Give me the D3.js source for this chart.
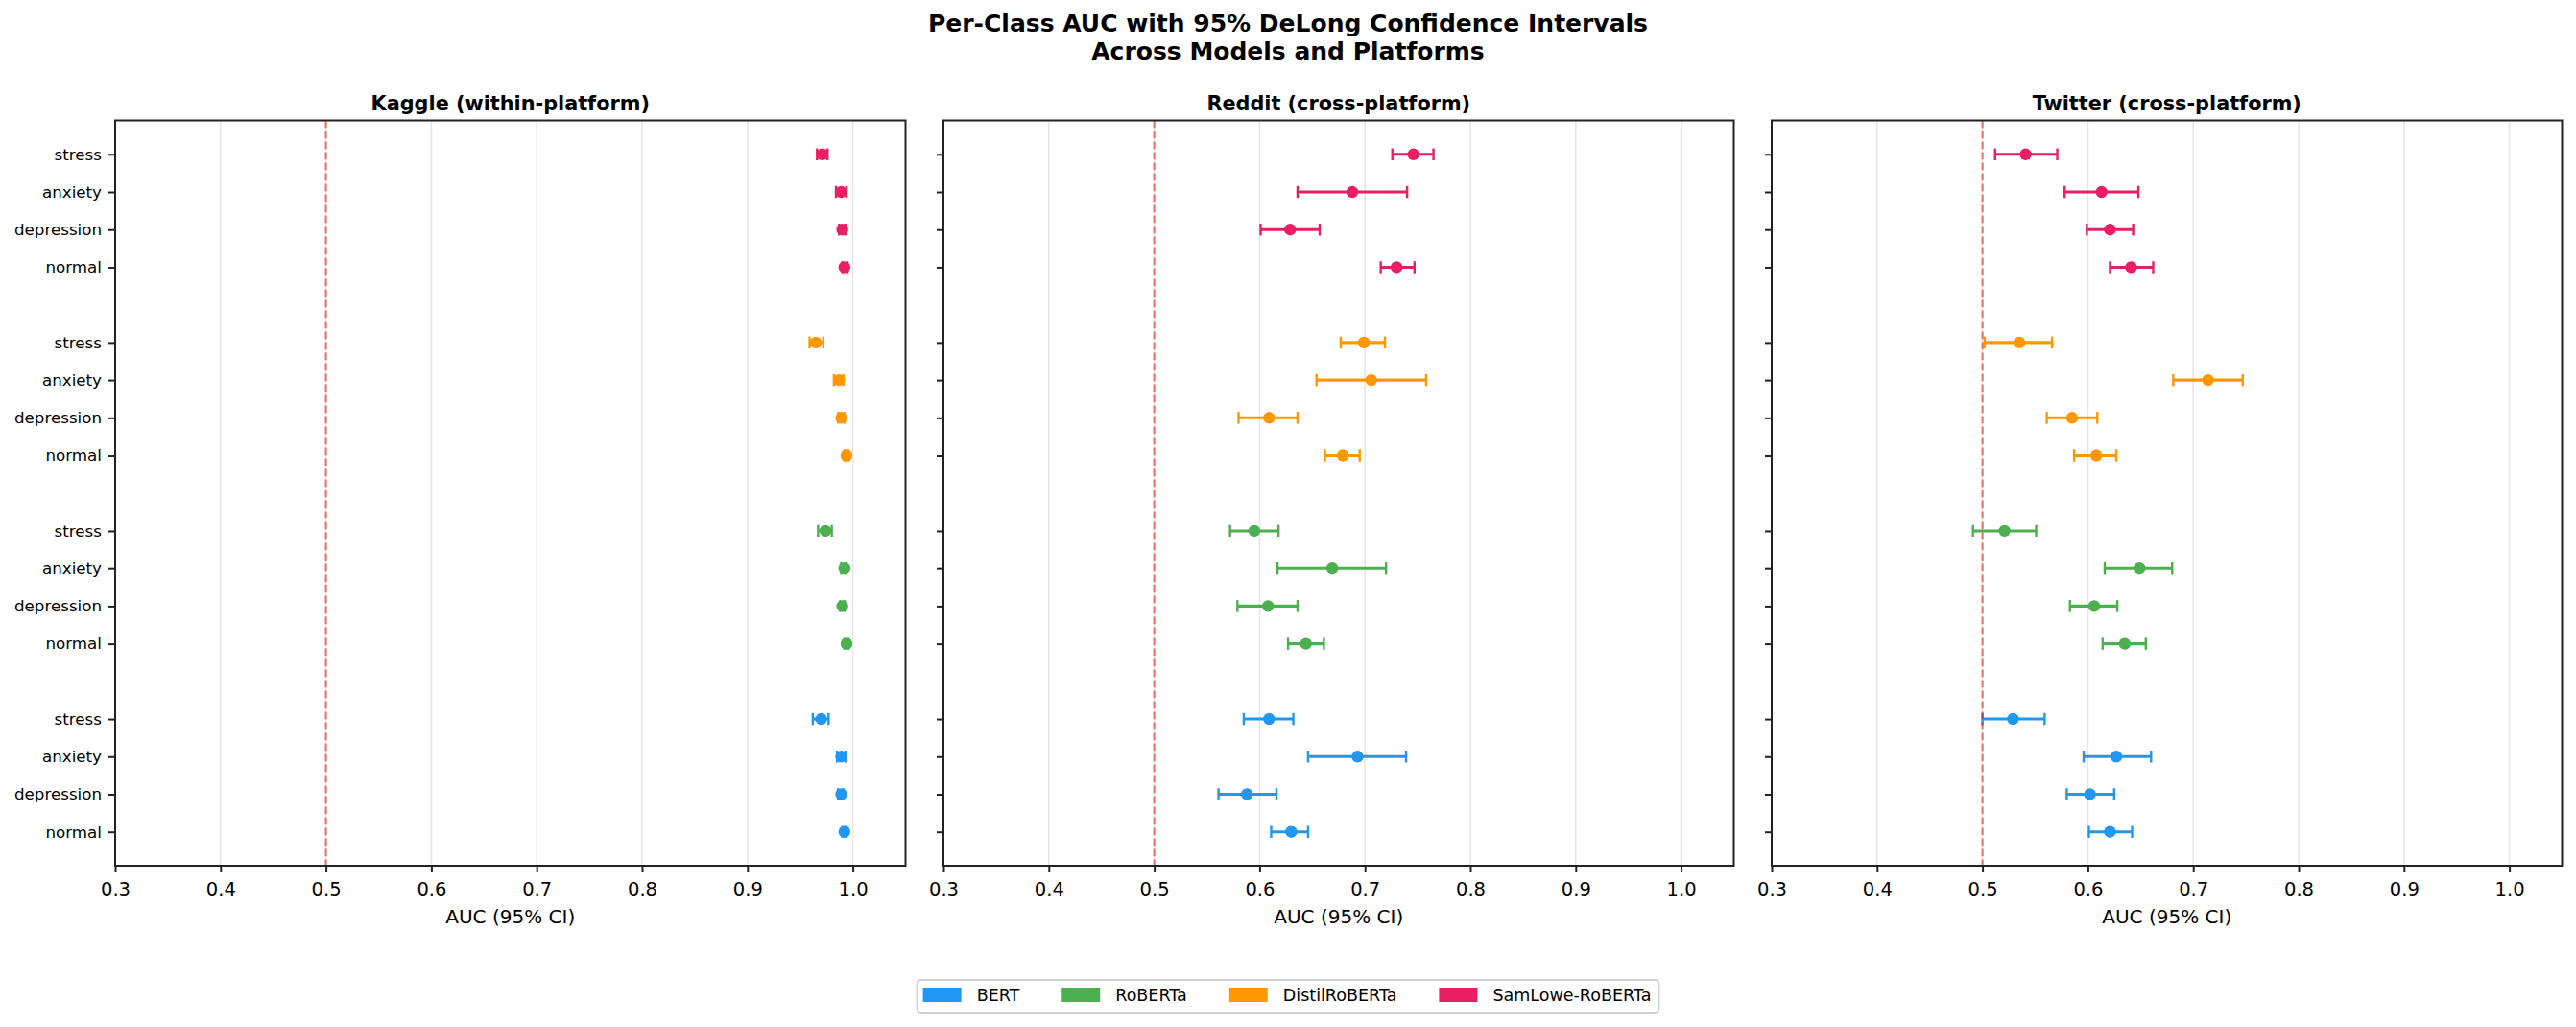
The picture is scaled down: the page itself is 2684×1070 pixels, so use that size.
<!DOCTYPE html>
<html>
<head>
<meta charset="utf-8">
<script src="https://cdn.jsdelivr.net/npm/d3@7"></script>
<style>
  body { margin: 0; background: #fff; }
  svg { font-family: "DejaVu Sans", sans-serif; }
</style>
</head>
<body>
<svg id="chart" width="2684" height="1070"></svg>
<script>
'use strict';

// data: rows = models, columns = classes (normal, depression, anxiety, stress)
const models = ['BERT', 'RoBERTa', 'DistilRoBERTa', 'SamLowe-RoBERTa'];
const modelColors = ['#2196F3', '#4CAF50', '#FF9800', '#E91E63'];
const classes = ['normal', 'depression', 'anxiety', 'stress'];
const platforms = ['Kaggle (within-platform)', 'Reddit (cross-platform)', 'Twitter (cross-platform)'];
const xTicks = [0.3, 0.4, 0.5, 0.6, 0.7, 0.8, 0.9, 1.0];

const kaggleAuc = [
  [0.992, 0.989, 0.989, 0.970],
  [0.994, 0.990, 0.992, 0.974],
  [0.994, 0.989, 0.987, 0.965],
  [0.992, 0.990, 0.989, 0.971]
];
const kaggleLo = [
  [0.990, 0.986, 0.985, 0.962],
  [0.992, 0.988, 0.989, 0.967],
  [0.992, 0.986, 0.982, 0.959],
  [0.990, 0.987, 0.984, 0.966]
];
const kaggleHi = [
  [0.994, 0.991, 0.993, 0.977],
  [0.996, 0.992, 0.994, 0.980],
  [0.996, 0.992, 0.991, 0.972],
  [0.995, 0.993, 0.994, 0.976]
];

const redditAuc = [
  [0.630, 0.588, 0.693, 0.609],
  [0.644, 0.608, 0.669, 0.595],
  [0.679, 0.609, 0.706, 0.699],
  [0.730, 0.629, 0.688, 0.746]
];
const redditLo = [
  [0.611, 0.561, 0.646, 0.585],
  [0.627, 0.579, 0.617, 0.572],
  [0.662, 0.580, 0.654, 0.677],
  [0.715, 0.601, 0.636, 0.726]
];
const redditHi = [
  [0.646, 0.616, 0.739, 0.632],
  [0.661, 0.636, 0.720, 0.618],
  [0.695, 0.636, 0.758, 0.719],
  [0.747, 0.657, 0.740, 0.765]
];

const twitterAuc = [
  [0.621, 0.602, 0.627, 0.529],
  [0.635, 0.606, 0.649, 0.521],
  [0.608, 0.585, 0.714, 0.535],
  [0.641, 0.621, 0.613, 0.541]
];
const twitterLo = [
  [0.601, 0.580, 0.596, 0.500],
  [0.614, 0.583, 0.616, 0.491],
  [0.587, 0.561, 0.681, 0.502],
  [0.621, 0.599, 0.578, 0.512]
];
const twitterHi = [
  [0.642, 0.625, 0.660, 0.559],
  [0.655, 0.628, 0.680, 0.551],
  [0.627, 0.609, 0.747, 0.566],
  [0.662, 0.643, 0.648, 0.571]
];

const panelData = [
  { auc: kaggleAuc, lo: kaggleLo, hi: kaggleHi },
  { auc: redditAuc, lo: redditLo, hi: redditHi },
  { auc: twitterAuc, lo: twitterLo, hi: twitterHi }
];

const svg = d3.select('#chart');
const W = 2684;
const left0 = 120, panelW = 823.5, panelStep = 863;
const plotTop = 125.5, plotBottom = 902;
const plotH = plotBottom - plotTop;
const capHalf = 6.25;

const x = d3.scaleLinear().domain([0.3, 1.05]).range([0, panelW]);
const y = d3.scaleLinear().domain([-0.9, 18.9]).range([plotH, 0]);
const rowOf = (m, c) => m * (classes.length + 1) + c;

const yTickVals = [];
const yTickText = {};
models.forEach((_, m) => classes.forEach((cl, c) => {
  yTickVals.push(rowOf(m, c));
  yTickText[rowOf(m, c)] = cl;
}));

// suptitle
svg.append('text')
  .attr('x', W / 2).attr('y', 33)
  .attr('text-anchor', 'middle')
  .attr('font-size', 25).attr('font-weight', 'bold')
  .text('Per-Class AUC with 95% DeLong Confidence Intervals');
svg.append('text')
  .attr('x', W / 2).attr('y', 62)
  .attr('text-anchor', 'middle')
  .attr('font-size', 25).attr('font-weight', 'bold')
  .text('Across Models and Platforms');

platforms.forEach((name, p) => {
  const g = svg.append('g')
    .attr('transform', `translate(${left0 + p * panelStep},${plotTop})`);
  const d = panelData[p];

  // grid
  g.append('g')
    .selectAll('line')
    .data(xTicks)
    .join('line')
    .attr('x1', v => x(v)).attr('x2', v => x(v))
    .attr('y1', 0).attr('y2', plotH)
    .attr('stroke', '#b0b0b0')
    .attr('stroke-opacity', 0.3)
    .attr('stroke-width', 1.6);

  // error bars
  models.forEach((model, m) => {
    const color = modelColors[m];
    const mg = g.append('g');
    classes.forEach((cl, c) => {
      const yy = y(rowOf(m, c));
      const lo = d.lo[m][c], hi = d.hi[m][c], v = d.auc[m][c];
      mg.append('line')
        .attr('x1', x(lo)).attr('x2', x(hi))
        .attr('y1', yy).attr('y2', yy)
        .attr('stroke', color).attr('stroke-width', 3.1);
      [lo, hi].forEach(e => {
        mg.append('line')
          .attr('x1', x(e)).attr('x2', x(e))
          .attr('y1', yy - capHalf).attr('y2', yy + capHalf)
          .attr('stroke', color).attr('stroke-width', 2.4);
      });
      mg.append('circle')
        .attr('cx', x(v)).attr('cy', yy)
        .attr('r', 6.2)
        .attr('fill', color);
    });
  });

  // chance line
  g.append('line')
    .attr('x1', x(0.5)).attr('x2', x(0.5))
    .attr('y1', 0).attr('y2', plotH)
    .attr('stroke', 'red')
    .attr('stroke-opacity', 0.55)
    .attr('stroke-width', 2.1)
    .attr('stroke-dasharray', '7.7,3.3');

  // axes
  const xAxis = g.append('g')
    .attr('transform', `translate(0,${plotH})`)
    .call(d3.axisBottom(x).tickValues(xTicks).tickFormat(d3.format('.1f'))
      .tickSize(7).tickSizeOuter(0).tickPadding(10));
  xAxis.select('.domain').remove();
  xAxis.selectAll('line').attr('stroke', '#222').attr('stroke-width', 2);
  xAxis.selectAll('text')
    .attr('font-size', 19.5)
    .attr('font-family', '"DejaVu Sans", sans-serif')
    .attr('fill', '#000');

  const yAxis = g.append('g')
    .call(d3.axisLeft(y).tickValues(yTickVals)
      .tickFormat(v => p === 0 ? yTickText[v] : '')
      .tickSize(7).tickSizeOuter(0).tickPadding(7));
  yAxis.select('.domain').remove();
  yAxis.selectAll('line').attr('stroke', '#222').attr('stroke-width', 2);
  yAxis.selectAll('text')
    .attr('font-size', 16.7)
    .attr('font-family', '"DejaVu Sans", sans-serif')
    .attr('fill', '#000');

  // frame
  g.append('rect')
    .attr('x', 0).attr('y', 0)
    .attr('width', panelW).attr('height', plotH)
    .attr('fill', 'none')
    .attr('stroke', '#222')
    .attr('stroke-width', 2);

  g.append('text')
    .attr('x', panelW / 2).attr('y', -11)
    .attr('text-anchor', 'middle')
    .attr('font-size', 20.8).attr('font-weight', 'bold')
    .text(name);

  g.append('text')
    .attr('x', panelW / 2).attr('y', plotH + 60)
    .attr('text-anchor', 'middle')
    .attr('font-size', 20)
    .text('AUC (95% CI)');
});

// legend
const legend = svg.append('g');
const box = legend.append('rect');
let lx = 0;
models.forEach((model, m) => {
  legend.append('rect')
    .attr('x', lx).attr('y', 8)
    .attr('width', 40).attr('height', 15)
    .attr('fill', modelColors[m]);
  const t = legend.append('text')
    .attr('x', lx + 56).attr('y', 22)
    .attr('font-size', 17.5)
    .text(model);
  lx += 56 + t.node().getComputedTextLength() + (m < models.length - 1 ? 44 : 0);
});
box.attr('x', -6).attr('y', 0)
  .attr('width', lx + 14).attr('height', 34)
  .attr('rx', 4)
  .attr('fill', '#fff')
  .attr('stroke', '#d0d0d0')
  .attr('stroke-width', 2);
legend.attr('transform', `translate(${W / 2 - (lx + 2) / 2},1021)`);
</script>
</body>
</html>
